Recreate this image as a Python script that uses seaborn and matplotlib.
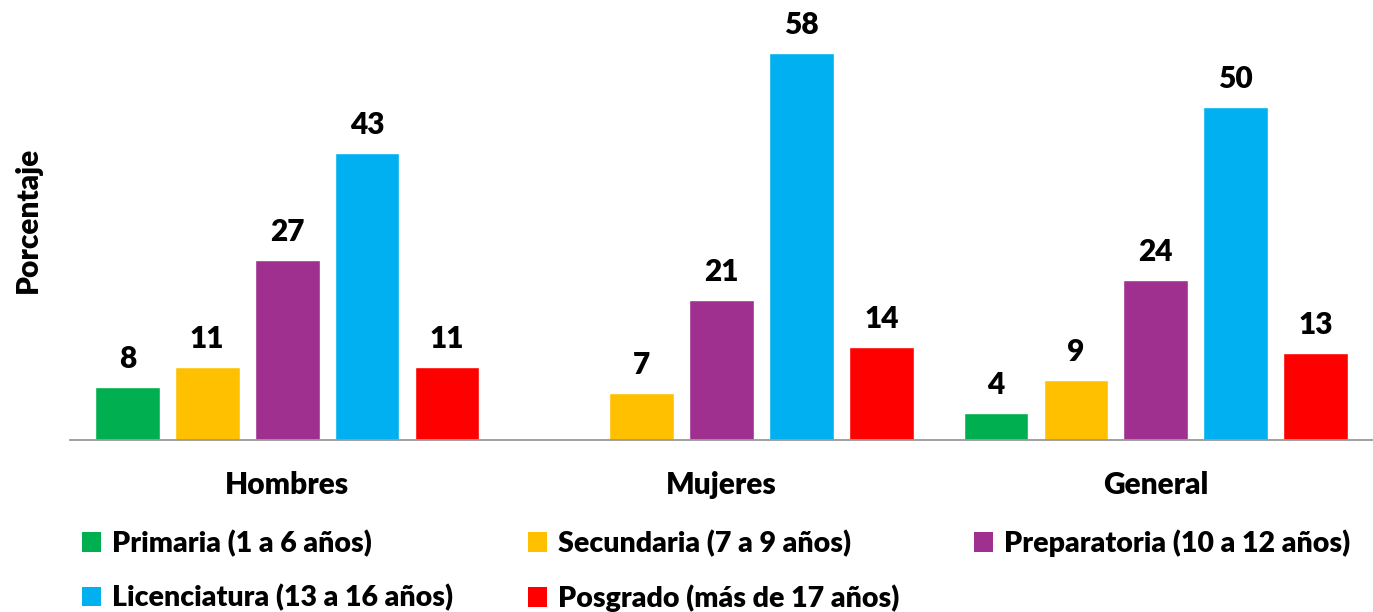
import numpy as np
import pandas as pd
import matplotlib
matplotlib.use("Agg")
import matplotlib.pyplot as plt
import seaborn as sns
from matplotlib.patches import Patch

# Data
groups = ["Hombres", "Mujeres", "General"]
niveles = ["Primaria (1 a 6 años)", "Secundaria (7 a 9 años)",
           "Preparatoria (10 a 12 años)", "Licenciatura (13 a 16 años)",
           "Posgrado (más de 17 años)"]
hombres = [8, 11, 27, 43, 11]
mujeres = [np.nan, 7, 21, 58, 14]
general = [4, 9, 24, 50, 13]
colors = ["#00B050", "#FFC000", "#A0308F", "#00B0F0", "#FF0000"]

rows = []
for g, vals in zip(groups, [hombres, mujeres, general]):
    for n, v in zip(niveles, vals):
        rows.append({"grupo": g, "nivel": n, "valor": v})
df = pd.DataFrame(rows)

sns.set_style("white")
plt.rcParams['font.family'] = ['Lato', 'DejaVu Sans']
plt.rcParams['text.color'] = 'black'
plt.rcParams['axes.labelcolor'] = 'black'
plt.rcParams['xtick.color'] = 'black'
FS = 21.5
W = 'heavy'

fig = plt.figure(figsize=(13.73, 6.12), dpi=100)
ax = fig.add_axes([70 / 1373, 1 - 440 / 612, 1 - 70 / 1373, 440 / 612])

sns.barplot(data=df, x="grupo", y="valor", hue="nivel", hue_order=niveles,
            palette=colors, order=groups, width=0.92, gap=0.19,
            saturation=1, legend=False, ax=ax)

# value labels above bars
for cont in ax.containers:
    labels = [f"{b.get_height():.0f}" if np.isfinite(b.get_height()) and b.get_height() > 0 else ""
              for b in cont]
    ax.bar_label(cont, labels=labels, padding=10, fontsize=FS, fontweight=W, color='black')

ax.set_xlim(-0.5, 2.5)
ax.set_ylim(0, 66)
ax.set_yticks([])
ax.set_xlabel("")
ax.set_ylabel("Porcentaje", fontsize=FS, fontweight=W, labelpad=20)
ax.tick_params(axis='x', length=0, pad=22, labelsize=FS)
for lab in ax.get_xticklabels():
    lab.set_fontweight(W)
for s in ["top", "right", "left"]:
    ax.spines[s].set_visible(False)
ax.spines["bottom"].set_color("#999999")
ax.spines["bottom"].set_linewidth(1.3)

# legend, row-wise order in 3 columns
handles = [Patch(facecolor=c, edgecolor='none') for c in colors]
order = [0, 3, 1, 4, 2]
fig.legend([handles[i] for i in order], [niveles[i] for i in order],
           ncol=3, loc='upper left', bbox_to_anchor=(56 / 1373, 1 - 504 / 612),
           frameon=False, handlelength=0.68, handleheight=0.68,
           handletextpad=0.4, columnspacing=2.6, labelspacing=0.95,
           prop={'weight': W, 'size': 20.5})

fig.savefig("out.png", dpi=100)
plt.close()
